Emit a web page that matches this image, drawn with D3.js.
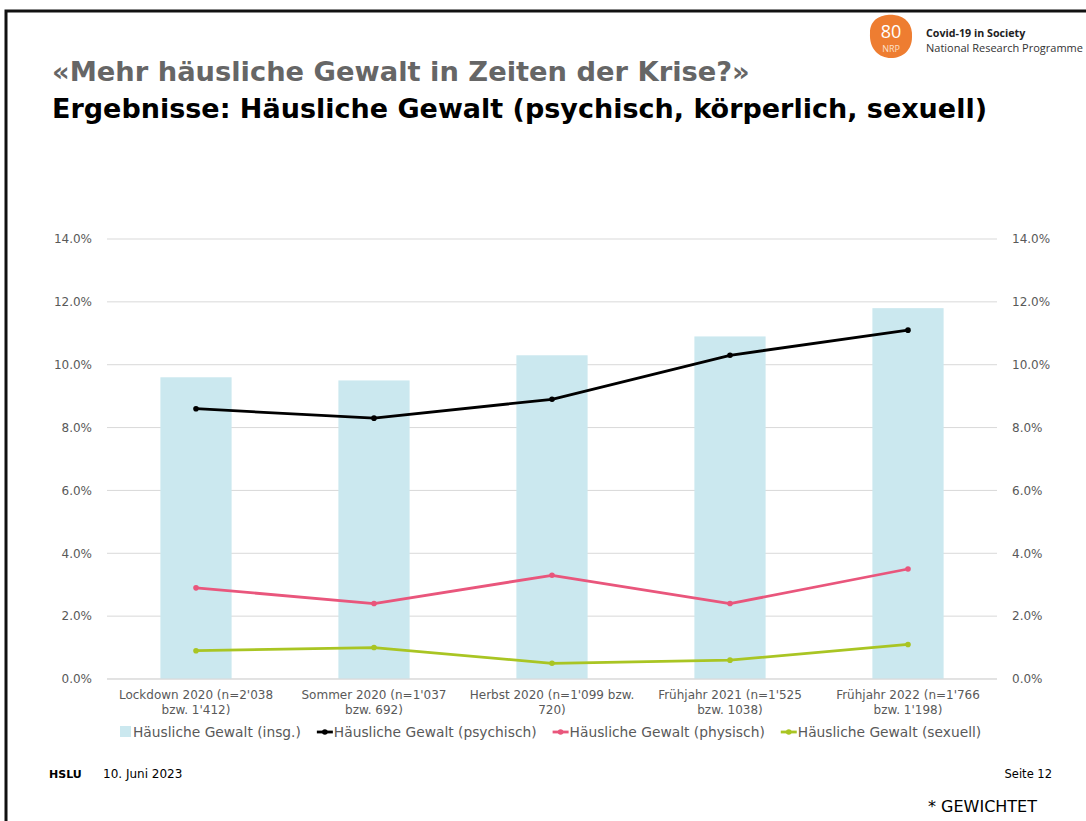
<!DOCTYPE html>
<html>
<head>
<meta charset="utf-8">
<script src="https://cdn.jsdelivr.net/npm/d3@7"></script>
<style>
  body { margin: 0; background: #fff; }
  svg { display: block; }
</style>
</head>
<body>
<div id="chart"></div>
<script>
// data
var categories = [
  ["Lockdown 2020 (n=2'038", "bzw. 1'412)"],
  ["Sommer 2020 (n=1'037", "bzw. 692)"],
  ["Herbst 2020 (n=1'099 bzw.", "720)"],
  ["Frühjahr 2021 (n=1'525", "bzw. 1038)"],
  ["Frühjahr 2022 (n=1'766", "bzw. 1'198)"]
];
var totalValues = [9.6, 9.5, 10.3, 10.9, 11.8];
var psychValues = [8.6, 8.3, 8.9, 10.3, 11.1];
var physValues = [2.9, 2.4, 3.3, 2.4, 3.5];
var sexValues = [0.9, 1.0, 0.5, 0.6, 1.1];
var yTicks = [0, 2, 4, 6, 8, 10, 12, 14];
var seriesNames = ["Häusliche Gewalt (insg.)", "Häusliche Gewalt (psychisch)",
  "Häusliche Gewalt (physisch)", "Häusliche Gewalt (sexuell)"];

var svgWidth = 1086, svgHeight = 821;
var margin = { top: 239, right: 89, bottom: 142, left: 107 };
var width = svgWidth - margin.left - margin.right;
var height = svgHeight - margin.top - margin.bottom;

var svg = d3.select("#chart").append("svg")
  .attr("width", svgWidth)
  .attr("height", svgHeight)
  .style("font-family", "'DejaVu Sans', Verdana, sans-serif");

// slide frame
svg.append("path")
  .attr("d", "M6,1000 L6,11 L1100,11")
  .attr("fill", "none")
  .attr("stroke", "#111")
  .attr("stroke-width", 3);

// titles
svg.append("text")
  .attr("x", 52).attr("y", 81)
  .attr("font-size", 27.3).attr("font-weight", "bold")
  .attr("fill", "#666")
  .text("«Mehr häusliche Gewalt in Zeiten der Krise?»");
svg.append("text")
  .attr("x", 52).attr("y", 118)
  .attr("font-size", 27).attr("font-weight", "bold")
  .attr("fill", "#000")
  .text("Ergebnisse: Häusliche Gewalt (psychisch, körperlich, sexuell)");

// NRP logo
var logo = svg.append("g").attr("transform", "translate(891,37)");
logo.append("path")
  .attr("d", "M-21,-4 C-21,-19 -8,-23 3,-22 C15,-21 22,-12 21,0 C21,13 12,21 0,21 C-12,21 -22,12 -21,-4 Z")
  .attr("fill", "#ee7d31");
logo.append("text").attr("y", 1).attr("text-anchor", "middle")
  .attr("font-family", "'Open Sans', sans-serif")
  .attr("font-size", 18).attr("fill", "#fff").text("80");
logo.append("text").attr("y", 15).attr("text-anchor", "middle")
  .attr("font-family", "'Open Sans', sans-serif")
  .attr("font-size", 9).attr("fill", "#fde0c8").text("NRP");
svg.append("text").attr("x", 926).attr("y", 37)
  .attr("font-family", "'Open Sans', sans-serif")
  .attr("font-size", 10.7).attr("font-weight", "bold").attr("fill", "#222")
  .text("Covid-19 in Society");
svg.append("text").attr("x", 926).attr("y", 52)
  .attr("font-family", "'Open Sans', sans-serif")
  .attr("font-size", 11).attr("fill", "#333")
  .text("National Research Programme");

var chartGroup = svg.append("g")
  .attr("transform", `translate(${margin.left}, ${margin.top})`);

var xScale = d3.scaleBand()
  .domain(d3.range(categories.length))
  .range([0, width])
  .paddingInner(0.6)
  .paddingOuter(0.3);
var xPoint = function(i) { return xScale(i) + xScale.bandwidth() / 2; };

var yScale = d3.scaleLinear().domain([0, 14]).range([height, 0]);

// gridlines
chartGroup.append("g")
  .selectAll("line")
  .data(yTicks)
  .enter()
  .append("line")
  .attr("x1", 0).attr("x2", width)
  .attr("y1", d => yScale(d)).attr("y2", d => yScale(d))
  .attr("stroke", "#d9d9d9").attr("stroke-width", 1);

// y axes, left and right
var fmt = d => d.toFixed(1) + "%";
var yLeft = chartGroup.append("g")
  .attr("transform", "translate(-12,0)")
  .call(d3.axisLeft(yScale).tickValues(yTicks).tickFormat(fmt).tickSize(0));
var yRight = chartGroup.append("g")
  .attr("transform", `translate(${width + 12},0)`)
  .call(d3.axisRight(yScale).tickValues(yTicks).tickFormat(fmt).tickSize(0));
[yLeft, yRight].forEach(function(a) {
  a.select(".domain").remove();
  a.selectAll("text")
    .attr("font-family", "'DejaVu Sans', Verdana, sans-serif")
    .attr("font-size", 12).attr("fill", "#595959");
});

// bars
chartGroup.selectAll("rect.bar")
  .data(totalValues)
  .enter()
  .append("rect")
  .attr("class", "bar")
  .attr("x", (d, i) => xScale(i))
  .attr("width", xScale.bandwidth())
  .attr("y", d => yScale(d))
  .attr("height", d => height - yScale(d))
  .attr("fill", "#cbe8ef");

// x axis baseline
chartGroup.append("line")
  .attr("x1", 0).attr("x2", width)
  .attr("y1", height).attr("y2", height)
  .attr("stroke", "#d9d9d9");

// lines
var lineSeries = [
  { values: psychValues, color: "#000000" },
  { values: physValues, color: "#e9567c" },
  { values: sexValues, color: "#a9c523" }
];
var line = d3.line()
  .x((d, i) => xPoint(i))
  .y(d => yScale(d));

lineSeries.forEach(function(s) {
  chartGroup.append("path")
    .datum(s.values)
    .attr("d", line)
    .attr("fill", "none")
    .attr("stroke", s.color)
    .attr("stroke-width", 2.8)
    .attr("stroke-linejoin", "round");
  chartGroup.selectAll(null)
    .data(s.values)
    .enter()
    .append("circle")
    .attr("cx", (d, i) => xPoint(i))
    .attr("cy", d => yScale(d))
    .attr("r", 2.8)
    .attr("fill", s.color);
});

// category labels
var catGroup = chartGroup.selectAll("text.cat")
  .data(categories)
  .enter()
  .append("text")
  .attr("class", "cat")
  .attr("text-anchor", "middle")
  .attr("font-size", 12)
  .attr("fill", "#595959");
catGroup.each(function(d, i) {
  var t = d3.select(this);
  d.forEach(function(ln, j) {
    t.append("tspan")
      .attr("x", xPoint(i))
      .attr("y", height + 20 + j * 15)
      .text(ln);
  });
});

// legend
var legend = svg.append("g").attr("transform", "translate(120,732)");
var lx = 0;
var legendColors = ["#cbe8ef", "#000000", "#e9567c", "#a9c523"];
seriesNames.forEach(function(name, i) {
  var g = legend.append("g").attr("transform", `translate(${lx},0)`);
  if (i === 0) {
    g.append("rect").attr("x", 0).attr("y", -6).attr("width", 11).attr("height", 11)
      .attr("fill", legendColors[i]);
  } else {
    g.append("line").attr("x1", 0).attr("x2", 16).attr("y1", 0).attr("y2", 0)
      .attr("stroke", legendColors[i]).attr("stroke-width", 2.8);
    g.append("circle").attr("cx", 8).attr("cy", 0).attr("r", 2.8).attr("fill", legendColors[i]);
  }
  var txt = g.append("text")
    .attr("x", i === 0 ? 13 : 17).attr("y", 5)
    .attr("font-size", 13.8).attr("fill", "#595959")
    .text(name);
  lx += (i === 0 ? 13 : 17) + txt.node().getComputedTextLength() + 16;
});

// footer
svg.append("text").attr("x", 49).attr("y", 778)
  .attr("font-size", 11).attr("font-weight", "bold").attr("fill", "#000").text("HSLU");
svg.append("text").attr("x", 103).attr("y", 778)
  .attr("font-size", 12).attr("fill", "#000").text("10. Juni 2023");
svg.append("text").attr("x", 1052).attr("y", 778).attr("text-anchor", "end")
  .attr("font-size", 11.5).attr("fill", "#000").text("Seite 12");
svg.append("text").attr("x", 928).attr("y", 812)
  .attr("font-size", 16).attr("fill", "#000").text("* GEWICHTET");
</script>
</body>
</html>
